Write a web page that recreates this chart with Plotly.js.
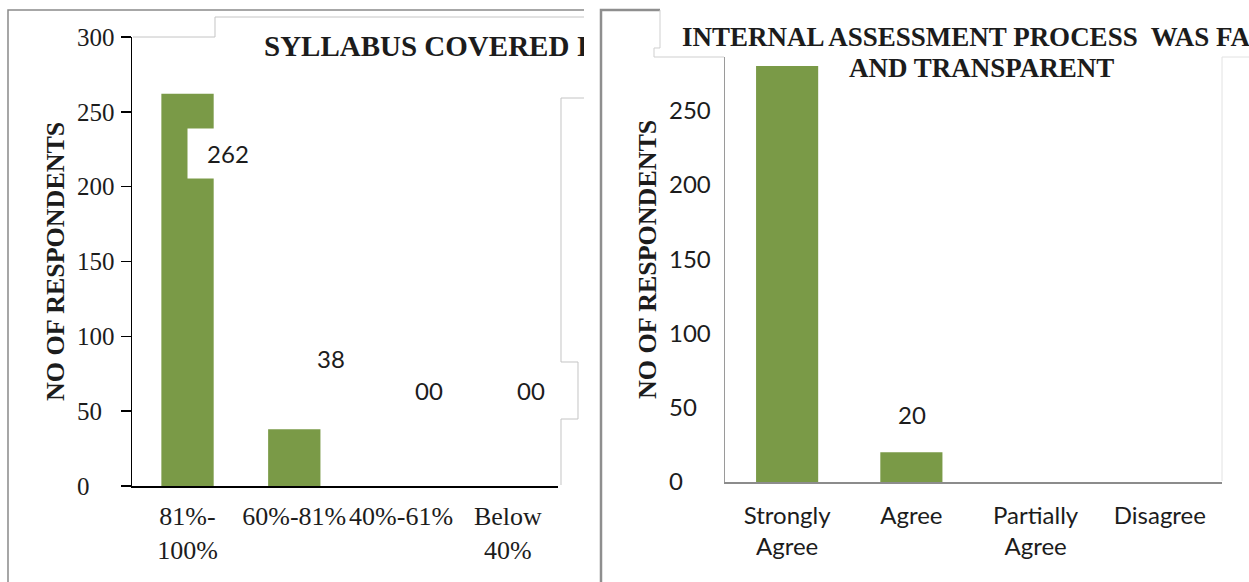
<!DOCTYPE html>
<html><head><meta charset="utf-8">
<script src="https://cdn.plot.ly/plotly-3.0.1.min.js"></script>
<style>
html,body{margin:0;padding:0;background:#fff;overflow:hidden;width:1249px;height:582px}
#c1{position:absolute;left:0;top:0;width:584px;height:582px;overflow:hidden}
#c2{position:absolute;left:590px;top:0;width:659px;height:582px;overflow:hidden}
</style></head><body>
<div id="c1"></div><div id="c2"></div>
<script>
// ---- data ----
const syllabusCategories = ["81%-<br>100%", "60%-81%", "40%-61%", "Below<br>40%"];
const syllabusCounts = [262, 38, 0, 0];
const syllabusTicks = [0, 50, 100, 150, 200, 250, 300];
const assessCategories = ["Strongly<br>Agree", "Agree", "Partially<br>Agree", "Disagree"];
const assessCounts = [280, 20, 0, 0];
const assessTicks = [0, 50, 100, 150, 200, 250];
const assessShownLabels = [1];
const yTitleText = "NO OF RESPONDENTS";
const syllabusTitle = "SYLLABUS COVERED IN CLASS";
const assessTitleLines = ["INTERNAL ASSESSMENT PROCESS\u00a0 WAS FAIR", "AND TRANSPARENT"];

// ---- styling ----
const GREEN = "#7a9a47";
const SERIF = "Liberation Serif, Times New Roman, serif";
const SANS = "Lato, Open Sans, sans-serif";
const INK = "#1c1c1c";
const fmt = v => String(v).padStart(2, "0");

function mapper(W, H, m, offX) {
  return {
    X: px => (px - offX - m.l) / (W - m.l - m.r),
    Y: py => (H - m.b - py) / (H - m.t - m.b)
  };
}
function pathOf(pts, M) {
  return pts.map((p, i) => (i ? "L" : "M") + M.X(p[0]).toFixed(5) + "," + M.Y(p[1]).toFixed(5)).join(" ");
}
function note(M, px, py, text, font, extra) {
  return Object.assign({text: text, x: M.X(px), y: M.Y(py), xref: "paper", yref: "paper",
    xanchor: "center", yanchor: "middle", showarrow: false, font: font}, extra || {});
}

// ================= LEFT CHART =================
(function () {
  const W = 584, H = 582, m = {l: 76, r: 26, t: 37, b: 96};
  const M = mapper(W, H, m, 0);
  const d0 = M.X(132);
  const labelPos = [[228, 153], [331, 358], [429, 390], [531, 390]];
  const ann = [
    note(M, 55, 262, yTitleText, {family: SERIF, size: 26, color: INK, weight: 700}, {textangle: -90}),
    note(M, 262, 46, syllabusTitle, {family: SERIF, size: 29, color: INK, weight: 700}, {xanchor: "left"})
  ];
  syllabusCounts.forEach((v, i) => {
    const extra = i === 0 ? {bgcolor: "#ffffff", width: 76, height: 45, borderpad: 2} : {};
    ann.push(note(M, labelPos[i][0], labelPos[i][1], fmt(v), {family: SANS, size: 24, color: INK}, extra));
  });
  const shapes = [
    {type: "path", xref: "paper", yref: "paper", path: pathOf([[8, 582], [8, 10], [584, 10]], M),
     line: {color: "#8a8a8a", width: 1.5}},
    {type: "path", xref: "paper", yref: "paper", path: pathOf([[133, 37], [215, 37], [215, 17], [584, 17]], M),
     line: {color: "#c4c4c4", width: 1}},
    {type: "path", xref: "paper", yref: "paper",
     path: pathOf([[584, 98], [561, 98], [561, 362], [578, 362], [578, 419], [561, 419], [561, 485]], M),
     line: {color: "#c4c4c4", width: 1}}
  ];
  const data = [
    {type: "bar", x: syllabusCategories, y: syllabusCounts, width: 0.49, marker: {color: GREEN},
     hoverinfo: "skip", showlegend: false},
    {type: "scatter", mode: "markers", x: syllabusCategories, y: syllabusCounts, yaxis: "y2",
     marker: {opacity: 0}, hoverinfo: "skip", showlegend: false}
  ];
  const layout = {
    width: W, height: H, margin: m, paper_bgcolor: "#fff", plot_bgcolor: "rgba(0,0,0,0)",
    showlegend: false,
    xaxis: {domain: [d0, 1], range: [-0.52, 3.47], type: "category", showline: true, linecolor: "#000",
      linewidth: 2, ticks: "", showgrid: false, zeroline: false, ticklabelstandoff: 6,
      tickfont: {family: SERIF, size: 26, color: INK}, fixedrange: true},
    yaxis: {range: [0, 300], tickvals: syllabusTicks, showticklabels: false, ticks: "outside", ticklen: 10,
      tickcolor: "#000", tickwidth: 1.5, showline: true, linecolor: "#000", linewidth: 1.5,
      showgrid: false, zeroline: false, fixedrange: true},
    yaxis2: {overlaying: "y", side: "right", anchor: "free", position: 0, range: [0, 300],
      tickvals: syllabusTicks, ticks: "", showline: false, showgrid: false, zeroline: false,
      tickfont: {family: SERIF, size: 25, color: INK}, fixedrange: true},
    annotations: ann, shapes: shapes
  };
  Plotly.newPlot("c1", data, layout, {staticPlot: true});
})();

// ================= RIGHT CHART =================
(function () {
  const OFF = 590, W = 659, H = 582, m = {l: 78, r: 27, t: 57, b: 100};
  const M = mapper(W, H, m, OFF);
  const d0 = M.X(725);
  const labelPos = {1: [912, 414]};
  const ann = [
    note(M, 647, 260, yTitleText, {family: SERIF, size: 26, color: INK, weight: 700}, {textangle: -90}),
    note(M, 981, 37, assessTitleLines[0], {family: SERIF, size: 27, color: INK, weight: 700}),
    note(M, 981, 68, assessTitleLines[1], {family: SERIF, size: 27, color: INK, weight: 700})
  ];
  assessShownLabels.forEach(i => {
    ann.push(note(M, labelPos[i][0], labelPos[i][1], fmt(assessCounts[i]), {family: SANS, size: 24, color: INK}));
  });
  const shapes = [
    {type: "path", xref: "paper", yref: "paper", path: pathOf([[601, 582], [601, 10], [660, 10]], M),
     line: {color: "#8e8e8e", width: 2.5}},
    {type: "path", xref: "paper", yref: "paper",
     path: pathOf([[660, 10], [660, 48], [654, 48], [654, 57], [724, 57]], M),
     line: {color: "#cfcfcf", width: 1}},
    {type: "path", xref: "paper", yref: "paper", path: pathOf([[1222, 481], [1222, 57], [1249, 57]], M),
     line: {color: "#e2e2e2", width: 1}}
  ];
  const data = [
    {type: "bar", x: assessCategories, y: assessCounts, width: 0.5, marker: {color: GREEN},
     hoverinfo: "skip", showlegend: false},
    {type: "scatter", mode: "markers", x: assessCategories, y: assessCounts, yaxis: "y2",
     marker: {opacity: 0}, hoverinfo: "skip", showlegend: false}
  ];
  const layout = {
    width: W, height: H, margin: m, paper_bgcolor: "rgba(0,0,0,0)", plot_bgcolor: "rgba(0,0,0,0)",
    showlegend: false,
    xaxis: {domain: [d0, 1], range: [-0.5, 3.5], type: "category", showline: true, linecolor: "#8c8c8c",
      linewidth: 2, ticks: "", showgrid: false, zeroline: false, ticklabelstandoff: 11,
      tickfont: {family: SANS, size: 24, color: INK}, fixedrange: true},
    yaxis: {range: [0, 286], tickvals: assessTicks, showticklabels: false, ticks: "",
      showline: true, linecolor: "#9a9a9a", linewidth: 1.5, showgrid: false, zeroline: false, fixedrange: true},
    yaxis2: {overlaying: "y", side: "right", anchor: "free", position: 0, range: [0, 286],
      tickvals: assessTicks, ticks: "", showline: false, showgrid: false, zeroline: false,
      tickfont: {family: SANS, size: 24, color: INK}, fixedrange: true},
    annotations: ann, shapes: shapes
  };
  Plotly.newPlot("c2", data, layout, {staticPlot: true});
})();
</script>
</body></html>
